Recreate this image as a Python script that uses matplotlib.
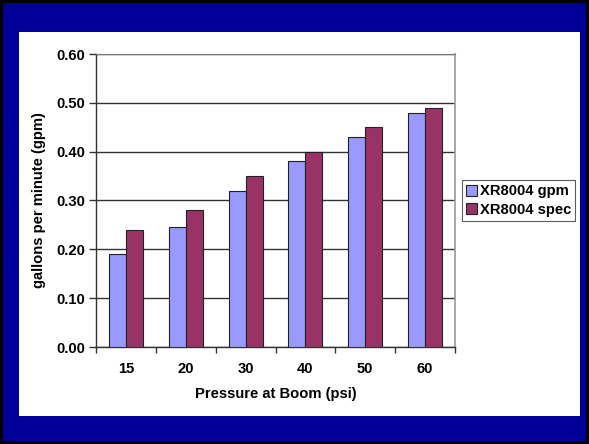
import matplotlib
matplotlib.use("Agg")
import matplotlib.pyplot as plt
import numpy as np
from matplotlib.patches import Rectangle

categories = ["15", "20", "30", "40", "50", "60"]
gpm = [0.19, 0.245, 0.32, 0.38, 0.43, 0.48]
spec = [0.24, 0.28, 0.35, 0.40, 0.45, 0.49]
series_names = ["XR8004 gpm", "XR8004 spec"]
yticks = [0.0, 0.1, 0.2, 0.3, 0.4, 0.5, 0.6]

plt.rcParams['font.family'] = ['Liberation Sans', 'DejaVu Sans']
FS = 10.6
W, H = 589, 444
fig = plt.figure(figsize=(W/100, H/100), dpi=100)
fig.patch.set_facecolor('black')
# blue frame and white panel
fig.add_artist(Rectangle((3/W, 3/H), (W-6)/W, (H-6)/H, transform=fig.transFigure,
                         facecolor='#000099', edgecolor='none', zorder=0))
fig.add_artist(Rectangle((19/W, (H-416)/H), (580-19)/W, (416-32)/H, transform=fig.transFigure,
                         facecolor='white', edgecolor='none', zorder=0))

ax = fig.add_axes([96/W, (H-347)/H, (455-96)/W, (347-54)/H])
ax.set_facecolor('white')
x = np.arange(len(categories))
w = 0.283
ax.bar(x - w/2, gpm, w, color='#9999FF', edgecolor='#222222', linewidth=0.8, label=series_names[0], zorder=3)
ax.bar(x + w/2, spec, w, color='#993366', edgecolor='#222222', linewidth=0.8, label=series_names[1], zorder=3)

ax.set_xlim(-0.5, len(categories) - 0.5)
ax.set_ylim(0, 0.6)
ax.set_yticks(yticks)
ax.set_yticklabels([f"{v:.2f}" for v in yticks], fontsize=FS, fontweight='bold')
ax.set_xticks(x)
ax.set_xticklabels(categories, fontsize=FS, fontweight='bold')
ax.set_xticks(np.arange(len(categories) + 1) - 0.5, minor=True)
ax.tick_params(axis='x', which='major', length=0, pad=11)
ax.tick_params(axis='x', which='minor', length=4, width=1, color='#333333')
ax.tick_params(axis='y', length=5, width=1, color='#333333', pad=3)
ax.yaxis.grid(True, color='#333333', linewidth=1, zorder=0)
ax.set_axisbelow(True)
for s in ['left', 'bottom']:
    ax.spines[s].set_color('#333333')
    ax.spines[s].set_linewidth(1)
ax.spines['top'].set_color('#777777')
ax.spines['right'].set_color('#999999')
ax.spines['right'].set_linewidth(1.2)

ax.set_xlabel("Pressure at Boom (psi)", fontsize=FS, fontweight='bold', labelpad=8)
ax.set_ylabel("gallons per minute (gpm)", fontsize=FS, fontweight='bold', labelpad=7)

leg = ax.legend(loc='center left', bbox_to_anchor=(462/W, (H-200.5)/H), bbox_transform=fig.transFigure,
                prop={'weight': 'bold', 'size': FS}, frameon=True, fancybox=False,
                handlelength=0.75, handleheight=0.75, handletextpad=0.15, borderpad=0.3,
                labelspacing=0.3, borderaxespad=0)
leg.get_frame().set_edgecolor('#333333')
leg.get_frame().set_linewidth(0.8)

fig.savefig("out.png", dpi=100, facecolor=fig.get_facecolor())
